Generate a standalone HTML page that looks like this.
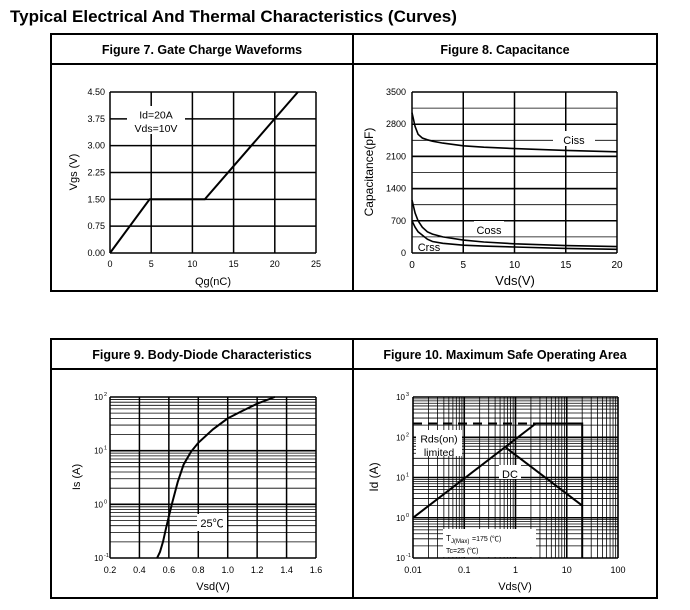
<!DOCTYPE html>
<html><head><meta charset="utf-8"><style>
body{margin:0;background:#fff;width:690px;height:605px;overflow:hidden;font-family:"Liberation Sans",sans-serif;}
svg text{font-family:"Liberation Sans","Noto Sans CJK SC",sans-serif;}
</style></head><body>
<svg id="root" width="690" height="605" xmlns="http://www.w3.org/2000/svg">
<text x="10" y="22" font-size="17" font-weight="bold">Typical Electrical And Thermal Characteristics (Curves)</text>
<g fill="none" stroke="#000" stroke-width="2">
<rect x="51" y="34" width="606" height="257"/><line x1="353" y1="34" x2="353" y2="291"/><line x1="51" y1="64" x2="657" y2="64"/>
<rect x="51" y="339" width="606" height="259"/><line x1="353" y1="339" x2="353" y2="598"/><line x1="51" y1="369" x2="657" y2="369"/>
</g>
<g font-size="12.5" font-weight="bold" text-anchor="middle">
<text x="202" y="54">Figure 7. Gate Charge Waveforms</text>
<text x="505" y="54">Figure 8. Capacitance</text>
<text x="202" y="359">Figure 9. Body-Diode Characteristics</text>
<text x="505" y="359">Figure 10. Maximum Safe Operating Area</text>
</g>
<g id="charts"></g>
</svg>
<script>
// Fig 7 data
const f7x=[0,4.8,11.5,22.8];
const f7y=[0,1.5,1.5,4.5];
const f7xt=[0,5,10,15,20,25];
const f7yt=["0.00","0.75","1.50","2.25","3.00","3.75","4.50"];
// Fig 8 data
const f8x=[0,0.3,0.6,1,1.5,2,3,5,7,10,15,20];
const f8ciss=[3050,2750,2580,2500,2460,2430,2390,2330,2300,2270,2230,2200];
const f8coss=[1150,870,700,560,460,410,350,280,240,200,160,140];
const f8crss=[700,560,460,390,300,250,210,170,150,130,100,80];
const f8xt=[0,5,10,15,20];
const f8yt=[0,700,1400,2100,2800,3500];
// Fig 9 data
const f9x=[0.52,0.54,0.56,0.58,0.6,0.62,0.66,0.7,0.75,0.8,0.9,1.0,1.1,1.2,1.32];
const f9y=[0.1,0.13,0.2,0.35,0.6,1,2.6,5.5,9.5,14,25,40,55,75,100];
const f9xt=["0.2","0.4","0.6","0.8","1.0","1.2","1.4","1.6"];
// Fig 10 data
const f10rdsX=[0.01,2.5];
const f10rdsY=[1,220];
const f10dcX=[0.65,20];
const f10dcY=[55,2];
const f10limX=[2.5,20,20];
const f10limY=[220,220,0.1];
const f10dashX=[0.01,2.5];
const f10dashY=[220,220];
const f10xt=["0.01","0.1","1","10","100"];

const NS="http://www.w3.org/2000/svg";
const root=document.getElementById('charts');
function mk(tag,attrs,parent){const e=document.createElementNS(NS,tag);for(const k in attrs)e.setAttribute(k,attrs[k]);(parent||root).appendChild(e);return e;}
function txt(x,y,s,size,anchor,parent){const t=mk('text',{x:x,y:y,'font-size':size,'text-anchor':anchor||'middle'},parent);t.textContent=s;return t;}
function line(x1,y1,x2,y2,w,g){return mk('line',{x1:x1,y1:y1,x2:x2,y2:y2,stroke:'#000','stroke-width':w},g);}
function poly(xs,ys,sx,sy,g,extra){const pts=xs.map((v,i)=>sx(v).toFixed(1)+','+sy(ys[i]).toFixed(1)).join(' ');const p=mk('polyline',Object.assign({points:pts,fill:'none',stroke:'#000','stroke-width':2},extra||{}),g);return p;}
function lin(d0,d1,r0,r1){return v=>r0+(v-d0)/(d1-d0)*(r1-r0);}
function lg(d0,d1,r0,r1){return v=>r0+(Math.log10(v)-Math.log10(d0))/(Math.log10(d1)-Math.log10(d0))*(r1-r0);}
function label(x,y,w,h,lines,size,g){mk('rect',{x:x,y:y,width:w,height:h,fill:'#fff'},g);lines.forEach((s,i)=>txt(x+w/2,y+size+2+i*(size+3),s,size,'middle',g));}

// ---- Fig 7
{const g=mk('g',{});
const X0=110,X1=316,Y0=253,Y1=92;const sx=lin(0,25,X0,X1),sy=lin(0,4.5,Y0,Y1);
f7xt.forEach(v=>{line(sx(v),Y0,sx(v),Y1,1.5,g);txt(sx(v),267,String(v),9,'middle',g);});
f7yt.forEach(v=>{const y=sy(+v);line(X0,y,X1,y,1.5,g);txt(X0-5,y+3,v,9,'end',g);});
label(127,106,58,28,['Id=20A','Vds=10V'],10.5,g);
const p=poly(f7x,f7y,sx,sy,g);
txt(213,285,'Qg(nC)',11,'middle',g);
const yt=txt(0,0,'Vgs (V)',11,'middle',g);yt.setAttribute('transform','translate(77,172) rotate(-90)');}

// ---- Fig 8
{const g=mk('g',{});
const X0=412,X1=617,Y0=253,Y1=92;const sx=lin(0,20,X0,X1),sy=lin(0,3500,Y0,Y1);
for(let v=350;v<3500;v+=350){line(X0,sy(v),X1,sy(v),v%700?0.8:1.5,g);}
f8xt.forEach(v=>{line(sx(v),Y0,sx(v),Y1,1.5,g);txt(sx(v),268,String(v),10,'middle',g);});
f8yt.forEach(v=>{line(X0,sy(v),X1,sy(v),1.5,g);txt(X0-6,sy(v)+3,String(v),9,'end',g);});
label(553,131,42,15,['Ciss'],11,g);label(474,221,30,15,['Coss'],11,g);label(415,238,28,12,['Crss'],11,g);
[[f8ciss,'ciss-curve'],[f8coss,'coss-curve'],[f8crss,'crss-curve']].forEach(([d,n])=>{const p=poly(f8x,d,sx,sy,g,{'stroke-width':1.6});});
txt(515,285,'Vds(V)',13,'middle',g);
const yt=txt(0,0,'Capacitance(pF)',12,'middle',g);yt.setAttribute('transform','translate(373,172) rotate(-90)');}

// ---- Fig 9
{const g=mk('g',{});
const X0=110,X1=316,Y0=558,Y1=397;const sx=lin(0.2,1.6,X0,X1),sy=lg(0.1,100,Y0,Y1);
for(let e=-1;e<2;e++)for(let m=1;m<10;m++){const v=m*Math.pow(10,e);line(X0,sy(v),X1,sy(v),m==1?1.6:0.8,g);}
line(X0,Y1,X1,Y1,1.6,g);
f9xt.forEach(v=>{line(sx(+v),Y0,sx(+v),Y1,1.5,g);txt(sx(+v),573,v,9,'middle',g);});
['-1','0','1','2'].forEach((e,i)=>{const y=sy(Math.pow(10,+e));const t=txt(X0-7,y+3,'10',8,'end',g);const s=txt(X0-6,y-1,e,5.5,'start',g);});
label(197,514,30,17,['25℃'],11,g);
const p=poly(f9x,f9y,sx,sy,g);
txt(213,590,'Vsd(V)',11,'middle',g);
const yt=txt(0,0,'Is (A)',11,'middle',g);yt.setAttribute('transform','translate(80,477) rotate(-90)');}

// ---- Fig 10
{const g=mk('g',{});
const X0=413,X1=618,Y0=558,Y1=397;const sx=lg(0.01,100,X0,X1),sy=lg(0.1,1000,Y0,Y1);
for(let e=-1;e<3;e++)for(let m=1;m<10;m++){const v=m*Math.pow(10,e);line(X0,sy(v),X1,sy(v),m==1?1.6:0.8,g);}
for(let e=-2;e<2;e++)for(let m=1;m<10;m++){const v=m*Math.pow(10,e);line(sx(v),Y0,sx(v),Y1,m==1?1.6:0.8,g);}
line(X0,Y1,X1,Y1,1.6,g);line(X1,Y0,X1,Y1,1.6,g);
f10xt.forEach(v=>txt(sx(+v),573,v,9,'middle',g));
['-1','0','1','2','3'].forEach(e=>{const y=sy(Math.pow(10,+e));txt(X0-8,y+3,'10',8,'end',g);txt(X0-7,y-1,e,5.5,'start',g);});
label(416,430,46,26,['Rds(on)','limited'],10.5,g);
label(499,465,22,14,['DC'],11,g);
mk('rect',{x:443,y:529,width:93,height:28,fill:'#fff'},g);
const t1=txt(446,541,'T',8,'start',g);txt(451,543,'J(Max)',6,'start',g);txt(472,541,'=175 (℃)',7,'start',g);
txt(446,553,'Tc=25 (℃)',7,'start',g);
poly(f10dashX,f10dashY,sx,sy,g,{'stroke-dasharray':'9,6'});
poly(f10limX,f10limY,sx,sy,g);
poly(f10rdsX,f10rdsY,sx,sy,g);
poly(f10dcX,f10dcY,sx,sy,g);
txt(515,590,'Vds(V)',11,'middle',g);
const yt=txt(0,0,'Id (A)',12,'middle',g);yt.setAttribute('transform','translate(378,477) rotate(-90)');}
</script>
</body></html>
